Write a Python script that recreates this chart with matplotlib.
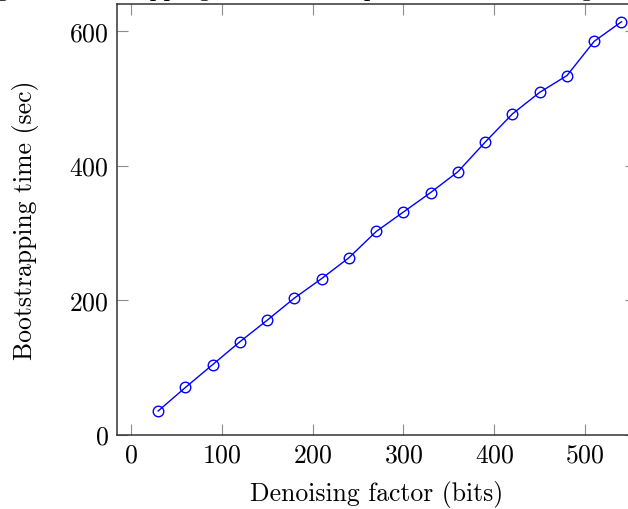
import matplotlib
matplotlib.use("Agg")
import matplotlib.pyplot as plt

# data
denoise_bits = [30, 60, 90, 120, 150, 180, 210, 240, 270, 300,
                330, 360, 390, 420, 450, 480, 510, 540]
boot_time = [35, 70, 104, 138, 170, 203, 232, 263, 302, 331,
             360, 391, 435, 477, 509, 534, 585, 614]
xticks = [0, 100, 200, 300, 400, 500]
yticks = [0, 200, 400, 600]

plt.rcParams['font.family'] = 'cmr10'
plt.rcParams['mathtext.fontset'] = 'cm'
plt.rcParams['axes.formatter.use_mathtext'] = True
fs = 18.5

fig = plt.figure(figsize=(6.28, 5.10), dpi=100)
W, H = 628, 510
left, right, top, bottom = 117.3, 636, 5.3, 435.5
ax = fig.add_axes([left / W, (H - bottom) / H, (right - left) / W, (bottom - top) / H])

ax.plot(denoise_bits, boot_time, color='blue', lw=1.0, marker='o',
        markersize=7.6, markerfacecolor='none', markeredgecolor='blue', markeredgewidth=1.0)

ax.set_xlim(-15, 556)
ax.set_ylim(0, 640)
ax.set_xticks(xticks)
ax.set_yticks(yticks)
ax.tick_params(direction='in', length=8, width=0.8, color='0.55',
               top=True, right=True, labelsize=fs, pad=6)
for s in ax.spines.values():
    s.set_color('0.2')
    s.set_linewidth(1.1)

ax.set_xlabel('Denoising factor (bits)', fontsize=fs, labelpad=10)
ax.set_ylabel('Bootstrapping time (sec)', fontsize=fs, labelpad=22)

# title is cropped off the top of the reference, only descenders show
fig.text(-97.7 / W, 1 + 3.6 / H,
         'Denoising vs. Bootstrapping time with respect to the denoising factor',
         fontsize=18, ha='left', va='baseline')

fig.savefig('out.png', dpi=100)
